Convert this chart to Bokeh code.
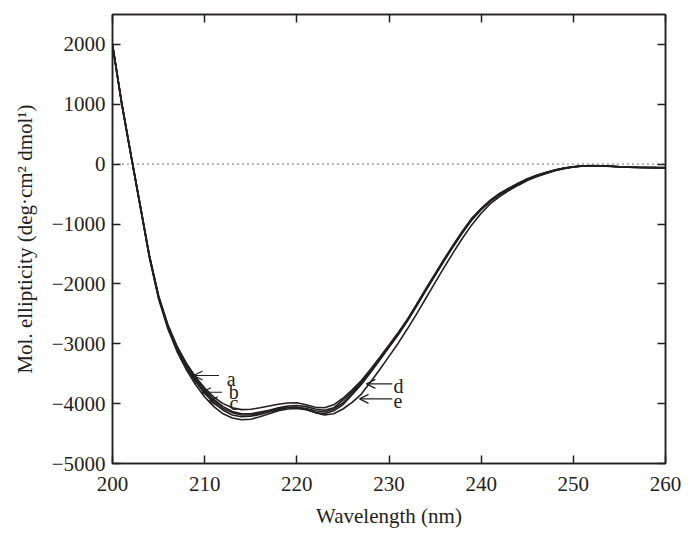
from bokeh.plotting import figure
from bokeh.models import (Range1d, LinearAxis, FixedTicker, Span, Arrow, OpenHead,
                          ColumnDataSource, CustomJSTickFormatter)
from bokeh.core.properties import value
from bokeh.embed import file_html
from bokeh.resources import INLINE

# ---------------- data ----------------
wavelength = list(range(200, 261))

curve_a = [2000, 1020, 150, -700, -1560, -2250, -2750, -3130, -3430, -3680,
           -3890, -4050, -4170, -4240, -4270, -4260, -4220, -4170, -4120, -4090,
           -4080, -4100, -4150, -4170, -4120, -4020, -3850, -3680, -3480, -3270,
           -3060, -2850, -2620, -2370, -2110, -1860, -1610, -1370, -1140, -930,
           -760, -620, -510, -420, -340, -260, -200, -150, -105, -70,
           -45, -30, -25, -28, -35, -42, -48, -52, -55, -57, -58]
curve_b = [1990, 1010, 150, -690, -1540, -2230, -2720, -3090, -3390, -3630,
           -3830, -3990, -4110, -4190, -4220, -4210, -4180, -4140, -4100, -4070,
           -4060, -4080, -4120, -4140, -4090, -3990, -3830, -3660, -3465, -3260,
           -3050, -2840, -2610, -2360, -2100, -1850, -1600, -1360, -1130, -920,
           -750, -610, -500, -410, -330, -255, -195, -145, -100, -68,
           -44, -30, -26, -30, -36, -43, -49, -53, -56, -58, -59]
curve_c = [2000, 1030, 170, -670, -1520, -2200, -2690, -3050, -3340, -3570,
           -3770, -3930, -4050, -4130, -4170, -4170, -4140, -4110, -4070, -4040,
           -4030, -4050, -4090, -4110, -4070, -3940, -3800, -3640, -3450, -3250,
           -3040, -2830, -2600, -2350, -2090, -1840, -1590, -1350, -1120, -910,
           -745, -605, -495, -405, -325, -250, -190, -140, -98, -66,
           -43, -30, -27, -31, -37, -44, -50, -54, -57, -59, -60]
curve_d = [1980, 1000, 140, -700, -1530, -2200, -2680, -3040, -3320, -3550,
           -3740, -3890, -4000, -4070, -4100, -4095, -4070, -4040, -4010, -3990,
           -3985, -4020, -4060, -4070, -4020, -3910, -3770, -3615, -3425, -3225,
           -3020, -2810, -2590, -2340, -2080, -1830, -1580, -1340, -1110, -900,
           -740, -600, -490, -400, -320, -245, -185, -138, -96, -64,
           -42, -29, -26, -30, -36, -43, -49, -53, -56, -58, -59]
curve_e = [2000, 1020, 160, -680, -1540, -2220, -2710, -3080, -3370, -3600,
           -3800, -3960, -4080, -4150, -4190, -4190, -4160, -4120, -4080, -4060,
           -4060, -4090, -4150, -4190, -4170, -4090, -3980, -3840, -3640, -3430,
           -3210, -2990, -2750, -2500, -2240, -1980, -1720, -1470, -1230, -1010,
           -820, -660, -540, -440, -355, -275, -210, -158, -110, -74,
           -48, -33, -27, -29, -35, -42, -48, -52, -55, -57, -58]

x_ticks = [200, 210, 220, 230, 240, 250, 260]
y_ticks = [-5000, -4000, -3000, -2000, -1000, 0, 1000, 2000]
y_tick_labels = ["\u22125000", "\u22124000", "\u22123000", "\u22122000", "\u22121000",
                 "0", "1000", "2000"]

# annotation arrows (labels a-e)
arrow_labels = ["a", "b", "c", "d", "e"]
arrow_tip_x = [208.8, 209.7, 210.45, 227.55, 226.8]
arrow_tip_y = [-3530, -3810, -3960, -3670, -3920]
arrow_tail_x = [211.55, 211.9, 211.3, 230.35, 230.35]
label_x = [212.4, 212.6, 212.7, 230.5, 230.5]
label_y = [-3590, -3810, -3990, -3700, -3950]

# ---------------- styling ----------------
FONT = "Liberation Serif"
INK = "#231f20"

p = figure(width=681, height=535, output_backend="svg", toolbar_location=None,
           x_range=Range1d(200, 260), y_range=Range1d(-5000, 2500),
           min_border_left=112, min_border_right=16, min_border_top=14,
           min_border_bottom=72,
           x_axis_label="Wavelength (nm)",
           y_axis_label="Mol. ellipticity (deg\u00b7cm\u00b2 dmol\u00b9)")
p.grid.visible = False
p.outline_line_color = INK
p.outline_line_width = 1.5
p.background_fill_color = "white"
p.border_fill_color = "white"


def style_axis(ax, ticks):
    ax.ticker = FixedTicker(ticks=ticks)
    ax.axis_line_color = INK
    ax.axis_line_width = 1.5
    ax.major_tick_line_color = INK
    ax.major_tick_line_width = 1.5
    ax.major_tick_in = 8
    ax.major_tick_out = 0
    ax.minor_tick_line_color = None
    ax.major_label_text_font = FONT
    ax.major_label_text_font_size = "21px"
    ax.major_label_text_color = INK
    ax.axis_label_text_font = FONT
    ax.axis_label_text_font_size = "21px"
    ax.axis_label_text_font_style = "normal"
    ax.axis_label_text_color = INK


xa = p.xaxis[0]
style_axis(xa, x_ticks)
xa.major_label_standoff = 13
xa.axis_label_standoff = 10

ya = p.yaxis[0]
style_axis(ya, y_ticks)
ya.major_label_overrides = {t: s for t, s in zip(y_ticks, y_tick_labels)}
ya.major_label_standoff = 7
ya.axis_label_standoff = 12

blank = CustomJSTickFormatter(code="return ''")
top_ax = LinearAxis(formatter=blank)
style_axis(top_ax, x_ticks)
top_ax.major_label_standoff = 0
top_ax.major_label_text_font_size = "1px"
p.add_layout(top_ax, "above")

right_ax = LinearAxis(formatter=blank)
style_axis(right_ax, y_ticks)
right_ax.major_label_standoff = 0
right_ax.major_label_text_font_size = "1px"
p.add_layout(right_ax, "right")

# zero reference line (dotted)
p.add_layout(Span(location=0, dimension="width", line_color=INK,
                  line_width=1.3, line_dash="1 4"))

# curves
for ys in (curve_a, curve_b, curve_c, curve_d, curve_e):
    p.line(wavelength, ys, line_color=INK, line_width=1.6)

# arrows + labels
for tx, ty, sx in zip(arrow_tip_x, arrow_tip_y, arrow_tail_x):
    p.add_layout(Arrow(x_start=sx, y_start=ty, x_end=tx, y_end=ty,
                       line_color=INK, line_width=1.2,
                       end=OpenHead(size=9, line_color=INK, line_width=1.2)))

src = ColumnDataSource(dict(x=label_x, y=label_y, t=arrow_labels))
p.text(x="x", y="y", text="t", source=src, text_font=value(FONT),
       text_font_size="20px", text_color=INK, text_align="left",
       text_baseline="middle")

open("out.html", "w").write(file_html(p, INLINE))
